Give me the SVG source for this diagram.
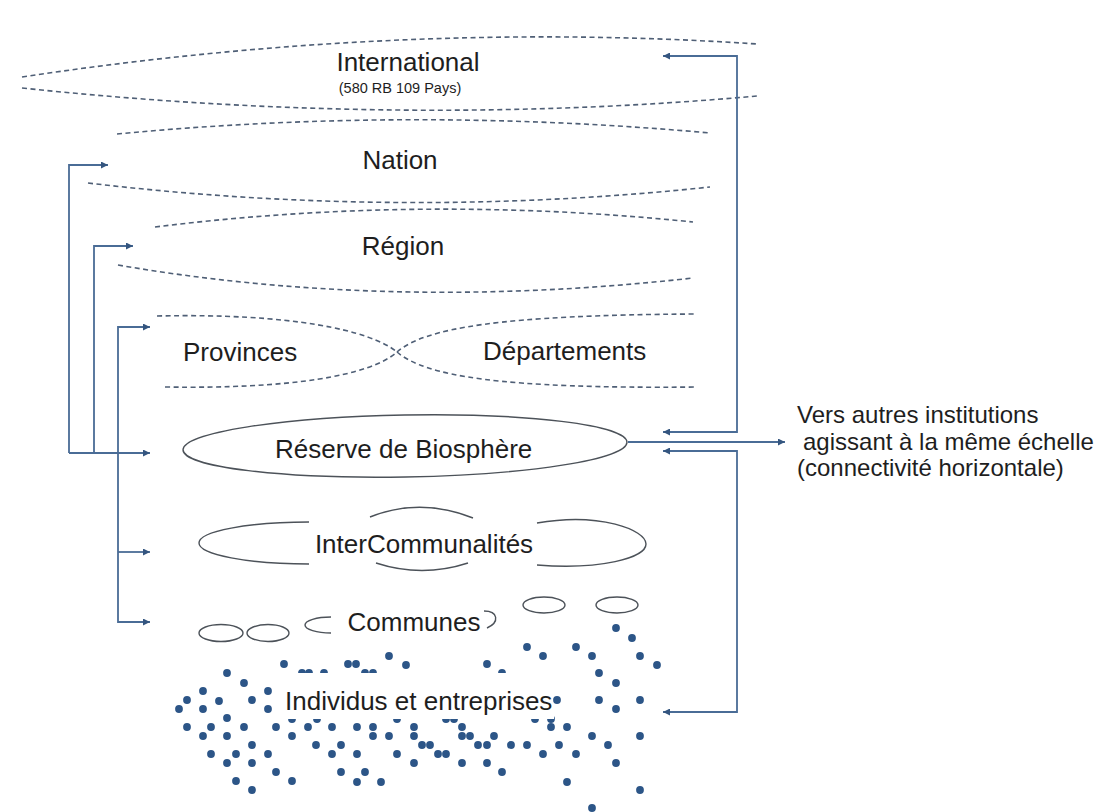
<svg xmlns="http://www.w3.org/2000/svg" width="1106" height="812" viewBox="0 0 1106 812">
<style>
.t{font-family:"Liberation Sans",Arial,sans-serif;fill:#1e1e1e;}
.dash{fill:none;stroke:#4f5f76;stroke-width:1.6;stroke-dasharray:5 3.5;}
.ol{fill:none;stroke:#4c5259;stroke-width:1.4;}
.cn{fill:none;stroke:#4a6c96;stroke-width:1.8;}
.d circle{fill:#2c5587;}
</style>
<defs>
<marker id="ah" viewBox="0 0 10 10" refX="10" refY="5" markerWidth="9" markerHeight="7" orient="auto-start-reverse" markerUnits="userSpaceOnUse"><path d="M0,0 L10,5 L0,10 z" fill="#34557f"/></marker>
</defs>
<rect width="1106" height="812" fill="#ffffff"/>

<g id="international">
<path class="dash" d="M22,77 Q400,20 757,44"/>
<path class="dash" d="M22,88 Q400,128 757,96"/>
<text class="t" x="408" y="71" font-size="26" text-anchor="middle">International</text>
<text class="t" x="400" y="93" font-size="14.5" text-anchor="middle">(580 RB 109 Pays)</text>
</g>

<g id="nation">
<path class="dash" d="M117,134 Q410,106 710,133"/>
<path class="dash" d="M88,183 Q400,220 710,187"/>
<text class="t" x="400" y="169" font-size="26" text-anchor="middle">Nation</text>
</g>

<g id="region">
<path class="dash" d="M155,227 Q420,194 693,222"/>
<path class="dash" d="M118,265 Q390,312 693,278"/>
<text class="t" x="403" y="255" font-size="26" text-anchor="middle">Région</text>
</g>

<g id="provinces-departements">
<path class="dash" d="M157,316 C290,313 370,330 397,352"/>
<path class="dash" d="M165,387 C290,389 370,376 397,352"/>
<path class="dash" d="M397,352 C425,328 500,315 697,314"/>
<path class="dash" d="M397,352 C425,376 500,389 697,387"/>
<text class="t" x="183" y="361" font-size="26">Provinces</text>
<text class="t" x="483" y="360" font-size="26">Départements</text>
</g>

<g id="reserve">
<ellipse class="ol" cx="405" cy="446" rx="222" ry="31" transform="rotate(-1 405 446)"/>
<text class="t" x="275" y="458" font-size="26">Réserve de Biosphère</text>
</g>

<g id="intercommunalites">
<path class="ol" d="M309,522 A110,21 0 0 0 309,564"/>
<path class="ol" d="M370,517 Q420,497 473,518"/>
<path class="ol" d="M376,563 Q422,578 468,563"/>
<path class="ol" d="M537,523 C600,512 646,530 646,544 C646,558 600,570 537,565"/>
<text class="t" x="424" y="553" font-size="26" text-anchor="middle">InterCommunalités</text>
</g>

<g id="communes">
<ellipse class="ol" cx="221" cy="633" rx="22" ry="8.5"/>
<ellipse class="ol" cx="268" cy="633" rx="21" ry="8.5"/>
<path class="ol" d="M331,617 A26,8 0 0 0 331,633"/>
<path class="ol" d="M484,611 C498,611 500,622 487,628"/>
<ellipse class="ol" cx="544" cy="605" rx="21" ry="8"/>
<ellipse class="ol" cx="617" cy="605" rx="21" ry="8"/>
<text class="t" x="414" y="631" font-size="26" text-anchor="middle">Communes</text>
</g>

<g id="individus">
<g class="d">
<circle cx="284" cy="664" r="3.9"/><circle cx="348" cy="664" r="3.9"/><circle cx="356" cy="664" r="3.9"/><circle cx="389" cy="656" r="3.9"/><circle cx="406" cy="665" r="3.9"/><circle cx="487" cy="664" r="3.9"/>
<circle cx="527" cy="647" r="3.9"/><circle cx="543" cy="656" r="3.9"/><circle cx="576" cy="647" r="3.9"/><circle cx="592" cy="656" r="3.9"/><circle cx="616" cy="628" r="3.9"/><circle cx="632" cy="638" r="3.9"/><circle cx="640" cy="656" r="3.9"/><circle cx="657" cy="665" r="3.9"/>
<circle cx="599" cy="673" r="3.9"/><circle cx="616" cy="683" r="3.9"/>
<circle cx="302" cy="673" r="3.9"/><circle cx="309" cy="673" r="3.9"/><circle cx="324" cy="673" r="3.9"/><circle cx="365" cy="673" r="3.9"/><circle cx="373" cy="673" r="3.9"/><circle cx="502" cy="673" r="3.9"/>
<circle cx="227" cy="673" r="3.9"/><circle cx="244" cy="683" r="3.9"/><circle cx="203" cy="691" r="3.9"/><circle cx="268" cy="691" r="3.9"/><circle cx="187" cy="700" r="3.9"/><circle cx="219" cy="701" r="3.9"/><circle cx="252" cy="700" r="3.9"/><circle cx="179" cy="709" r="3.9"/><circle cx="203" cy="709" r="3.9"/><circle cx="268" cy="709" r="3.9"/><circle cx="227" cy="718" r="3.9"/>
<circle cx="599" cy="700" r="3.9"/><circle cx="640" cy="700" r="3.9"/><circle cx="616" cy="709" r="3.9"/>
<circle cx="292" cy="719" r="3.9"/><circle cx="317" cy="719" r="3.9"/><circle cx="397" cy="719" r="3.9"/><circle cx="446" cy="719" r="3.9"/><circle cx="454" cy="719" r="3.9"/><circle cx="535" cy="719" r="3.9"/><circle cx="551" cy="719" r="3.9"/>
<circle cx="187" cy="727" r="3.9"/><circle cx="211" cy="727" r="3.9"/><circle cx="244" cy="727" r="3.9"/><circle cx="276" cy="727" r="3.9"/><circle cx="308" cy="727" r="3.9"/><circle cx="332" cy="727" r="3.9"/><circle cx="357" cy="727" r="3.9"/><circle cx="373" cy="727" r="3.9"/><circle cx="414" cy="727" r="3.9"/><circle cx="462" cy="727" r="3.9"/><circle cx="551" cy="727" r="3.9"/><circle cx="567" cy="727" r="3.9"/>
<circle cx="203" cy="736" r="3.9"/><circle cx="227" cy="736" r="3.9"/><circle cx="292" cy="736" r="3.9"/><circle cx="373" cy="736" r="3.9"/><circle cx="389" cy="736" r="3.9"/><circle cx="414" cy="736" r="3.9"/><circle cx="462" cy="736" r="3.9"/><circle cx="470" cy="736" r="3.9"/><circle cx="494" cy="736" r="3.9"/><circle cx="592" cy="736" r="3.9"/><circle cx="640" cy="736" r="3.9"/>
<circle cx="252" cy="745" r="3.9"/><circle cx="316" cy="745" r="3.9"/><circle cx="341" cy="745" r="3.9"/><circle cx="422" cy="745" r="3.9"/><circle cx="430" cy="745" r="3.9"/><circle cx="478" cy="745" r="3.9"/><circle cx="487" cy="745" r="3.9"/><circle cx="511" cy="745" r="3.9"/><circle cx="527" cy="745" r="3.9"/><circle cx="559" cy="745" r="3.9"/><circle cx="608" cy="745" r="3.9"/>
<circle cx="211" cy="754" r="3.9"/><circle cx="236" cy="754" r="3.9"/><circle cx="268" cy="754" r="3.9"/><circle cx="332" cy="754" r="3.9"/><circle cx="357" cy="754" r="3.9"/><circle cx="397" cy="754" r="3.9"/><circle cx="438" cy="754" r="3.9"/><circle cx="446" cy="754" r="3.9"/><circle cx="543" cy="754" r="3.9"/><circle cx="576" cy="754" r="3.9"/>
<circle cx="227" cy="763" r="3.9"/><circle cx="252" cy="763" r="3.9"/><circle cx="414" cy="763" r="3.9"/><circle cx="462" cy="763" r="3.9"/><circle cx="487" cy="763" r="3.9"/><circle cx="616" cy="763" r="3.9"/>
<circle cx="276" cy="772" r="3.9"/><circle cx="341" cy="772" r="3.9"/><circle cx="365" cy="772" r="3.9"/><circle cx="502" cy="772" r="3.9"/>
<circle cx="236" cy="781" r="3.9"/><circle cx="292" cy="781" r="3.9"/><circle cx="357" cy="782" r="3.9"/><circle cx="381" cy="782" r="3.9"/><circle cx="567" cy="782" r="3.9"/>
<circle cx="252" cy="790" r="3.9"/><circle cx="640" cy="790" r="3.9"/><circle cx="592" cy="808" r="3.9"/>
</g>
<rect x="280" y="673" width="274" height="46" fill="#ffffff"/>
<text class="t" x="285" y="710" font-size="26">Individus et entreprises</text>
<g class="d"><circle cx="557" cy="700" r="3.9"/></g>
</g>

<g id="horizontal-label">
<text class="t" x="797" y="423" font-size="24">Vers autres institutions</text>
<text class="t" x="803" y="450" font-size="24">agissant à la même échelle</text>
<text class="t" x="797" y="476" font-size="24">(connectivité horizontale)</text>
</g>

<g id="connectors">
<path class="cn" d="M69,453 V165 H108" marker-end="url(#ah)"/>
<path class="cn" d="M94,453 V246 H133" marker-end="url(#ah)"/>
<path class="cn" d="M69,453 H150" marker-end="url(#ah)"/>
<path class="cn" d="M150,327 H118 V622 H150" marker-start="url(#ah)" marker-end="url(#ah)"/>
<path class="cn" d="M118,552 H150" marker-end="url(#ah)"/>
<path class="cn" d="M663,432 H737 V56 H663" marker-start="url(#ah)" marker-end="url(#ah)"/>
<path class="cn" d="M663,451 H737 V712 H663" marker-start="url(#ah)" marker-end="url(#ah)"/>
<path class="cn" d="M628,442 H785" marker-end="url(#ah)"/>
</g>
</svg>
